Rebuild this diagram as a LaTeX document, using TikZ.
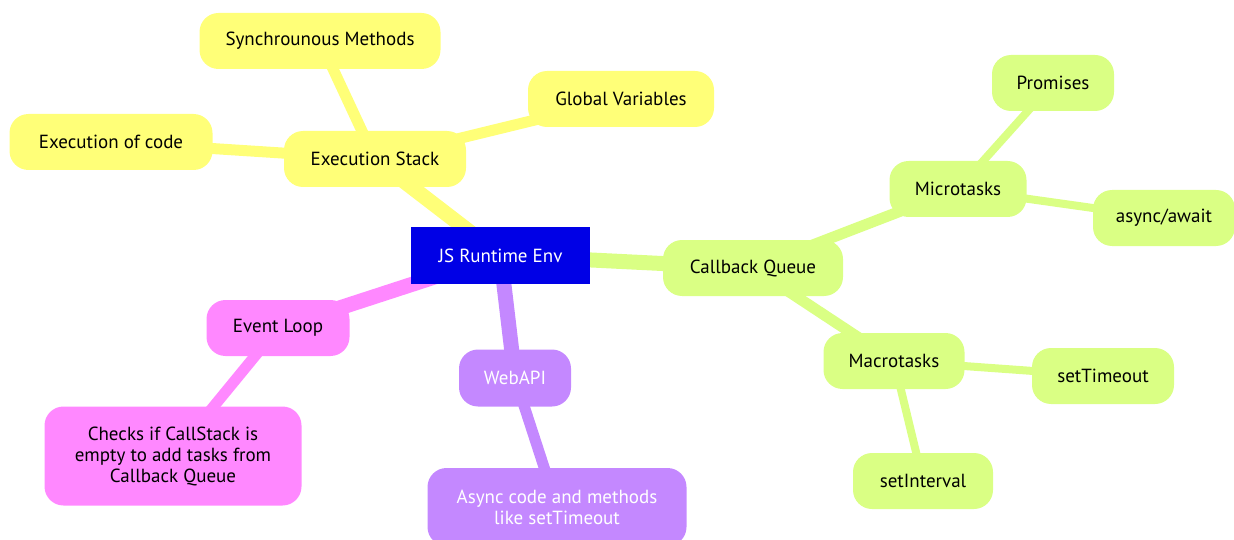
\documentclass[tikz,border=0pt]{standalone}
\usepackage{fontspec}
\setmainfont{PT Sans}
\usetikzlibrary{backgrounds}
\definecolor{mblue}{RGB}{0,0,230}
\definecolor{myellow}{RGB}{255,255,120}
\definecolor{mgreen}{RGB}{218,255,132}
\definecolor{mpink}{RGB}{255,136,255}
\definecolor{mpurple}{RGB}{196,136,255}

\begin{document}
\begin{tikzpicture}[x=1pt,y=-1pt,
  every node/.style={font=\fontsize{19}{21}\selectfont, align=center, inner sep=0pt},
  % rounded boxes of the mind map, colour passed as value
  idea/.style={fill=#1, rounded corners=19pt, minimum height=56pt},
  % branch widths shrink with depth
  branch/.style={draw=#1, line width=15pt},
  twig/.style={draw=#1, line width=11pt},
  leaf/.style={draw=#1, line width=8pt}]
  \useasboundingbox (0,0) rectangle (1234,540);

  % root
  \node[fill=mblue, text=white, minimum width=179pt, minimum height=57pt] (root) at (500.5,255.5) {JS Runtime Env};

  % execution stack
  \node[idea=myellow, minimum width=182pt] (stack) at (375,159) {Execution Stack};
  \node[idea=myellow, minimum width=241pt] (sync) at (320,41) {Synchrounous Methods};
  \node[idea=myellow, minimum width=186pt] (global) at (621,99) {Global Variables};
  \node[idea=myellow, minimum width=203pt] (exec) at (111,142) {Execution of code};

  % callback queue
  \node[idea=mgreen, minimum width=180pt] (queue) at (753,268) {Callback Queue};
  \node[idea=mgreen, minimum width=137pt] (micro) at (958,189) {Microtasks};
  \node[idea=mgreen, minimum width=122pt] (promise) at (1053,83) {Promises};
  \node[idea=mgreen, minimum width=142pt] (await) at (1164,218) {async/await};
  \node[idea=mgreen, minimum width=141pt] (macro) at (894,361) {Macrotasks};
  \node[idea=mgreen, minimum width=142pt] (timeout) at (1103,376) {setTimeout};
  \node[idea=mgreen, minimum width=140pt] (interval) at (923,481) {setInterval};

  % event loop
  \node[idea=mpink, minimum width=143pt] (loop) at (278,328) {Event Loop};
  \node[idea=mpink, minimum width=257pt, minimum height=99pt] (checks) at (173,456)
    {Checks if CallStack is\\empty to add tasks from\\Callback Queue};

  % web api
  \node[idea=mpurple, text=white, minimum width=112pt, minimum height=57pt] (webapi) at (515,378) {WebAPI};
  \node[idea=mpurple, text=white, minimum width=259pt, minimum height=78pt] (async) at (557,507)
    {Async code and methods\\like setTimeout};

  \begin{scope}[on background layer]
    \draw[branch=myellow] (root.center) -- (stack.center);
    \draw[twig=myellow] (stack.center) -- (sync.center);
    \draw[twig=myellow] (stack.center) -- (global.center);
    \draw[twig=myellow] (stack.center) -- (exec.center);
    \draw[branch=mgreen] (root.center) -- (queue.center);
    \draw[twig=mgreen] (queue.center) -- (micro.center);
    \draw[leaf=mgreen] (micro.center) -- (promise.center);
    \draw[leaf=mgreen] (micro.center) -- (await.center);
    \draw[twig=mgreen] (queue.center) -- (macro.center);
    \draw[leaf=mgreen] (macro.center) -- (timeout.center);
    \draw[leaf=mgreen] (macro.center) -- (interval.center);
    \draw[branch=mpink] (root.center) -- (loop.center);
    \draw[twig=mpink] (loop.center) -- (checks.center);
    \draw[branch=mpurple] (root.center) -- (webapi.center);
    \draw[twig=mpurple] (webapi.center) -- (async.center);
  \end{scope}
\end{tikzpicture}
\end{document}
